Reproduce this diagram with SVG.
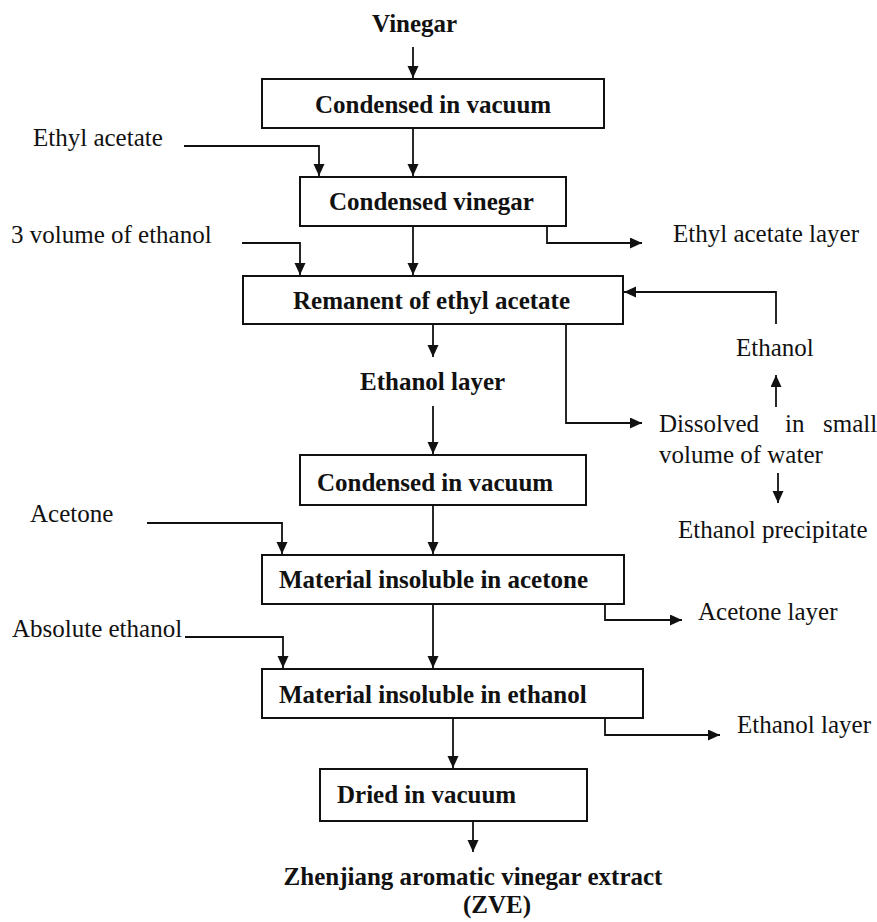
<svg xmlns="http://www.w3.org/2000/svg" width="877" height="922" viewBox="0 0 877 922">
<style>
.box{fill:#fff;stroke:#111;stroke-width:2}
.b{font-family:"Liberation Serif","Times New Roman",serif;font-weight:bold;font-size:25px;fill:#111}
.r{font-family:"Liberation Serif","Times New Roman",serif;font-size:25px;fill:#111}
.c{fill:none;stroke:#111;stroke-width:1.8}
</style>
<defs>
<marker id="ah" markerUnits="userSpaceOnUse" markerWidth="13" markerHeight="12" refX="12" refY="5.5" orient="auto">
<path d="M0,0 L12,5.5 L0,11 z" fill="#111"/>
</marker>
</defs>
<rect width="877" height="922" fill="#fff"/>
<g id="connectors">
<path class="c" d="M413,47 V78" marker-end="url(#ah)"/>
<path class="c" d="M413,128 V176" marker-end="url(#ah)"/>
<path class="c" d="M184,146 H319 V176" marker-end="url(#ah)"/>
<path class="c" d="M413,226 V275" marker-end="url(#ah)"/>
<path class="c" d="M242,243 H300 V275" marker-end="url(#ah)"/>
<path class="c" d="M547,226 V243 H642" marker-end="url(#ah)"/>
<path class="c" d="M776,324 V292 H624" marker-end="url(#ah)"/>
<path class="c" d="M433,324 V357" marker-end="url(#ah)"/>
<path class="c" d="M566,324 V423 H642" marker-end="url(#ah)"/>
<path class="c" d="M776,407 V375" marker-end="url(#ah)"/>
<path class="c" d="M778,473 V503" marker-end="url(#ah)"/>
<path class="c" d="M433,406 V454" marker-end="url(#ah)"/>
<path class="c" d="M433,505 V554" marker-end="url(#ah)"/>
<path class="c" d="M147,523 H282 V554" marker-end="url(#ah)"/>
<path class="c" d="M605,604 V620 H682" marker-end="url(#ah)"/>
<path class="c" d="M433,604 V668" marker-end="url(#ah)"/>
<path class="c" d="M185,637 H283 V668" marker-end="url(#ah)"/>
<path class="c" d="M605,718 V735 H720" marker-end="url(#ah)"/>
<path class="c" d="M453,718 V768" marker-end="url(#ah)"/>
<path class="c" d="M473,821 V852" marker-end="url(#ah)"/>
</g>
<g id="vinegar"><text class="b" x="372" y="32">Vinegar</text></g>
<g id="box1"><rect class="box" x="262" y="79" width="342" height="49"/><text class="b" x="315" y="113">Condensed in vacuum</text></g>
<g id="ethylacetate"><text class="r" x="33" y="146">Ethyl acetate</text></g>
<g id="box2"><rect class="box" x="300" y="177" width="266" height="49"/><text class="b" x="329" y="210">Condensed vinegar</text></g>
<g id="threevol"><text class="r" x="11" y="243">3 volume of ethanol</text></g>
<g id="ealayer"><text class="r" x="673" y="242">Ethyl acetate layer</text></g>
<g id="box3"><rect class="box" x="243" y="276" width="380" height="48"/><text class="b" x="293" y="309">Remanent of ethyl acetate</text></g>
<g id="ethanolR"><text class="r" x="736" y="356">Ethanol</text></g>
<g id="ethanollayer1"><text class="b" x="360" y="390">Ethanol layer</text></g>
<g id="dissolved"><text class="r" y="432"><tspan x="659">Dissolved</tspan><tspan x="785">in</tspan><tspan x="823">small</tspan></text><text class="r" x="659" y="463">volume of water</text></g>
<g id="precipitate"><text class="r" x="678" y="538">Ethanol precipitate</text></g>
<g id="box4"><rect class="box" x="300" y="455" width="286" height="50"/><text class="b" x="317" y="491">Condensed in vacuum</text></g>
<g id="acetone"><text class="r" x="30" y="522">Acetone</text></g>
<g id="box5"><rect class="box" x="262" y="555" width="362" height="49"/><text class="b" x="279" y="588">Material insoluble in acetone</text></g>
<g id="acetonelayer"><text class="r" x="698" y="620">Acetone layer</text></g>
<g id="absolute"><text class="r" x="12" y="637">Absolute ethanol</text></g>
<g id="box6"><rect class="box" x="262" y="669" width="381" height="49"/><text class="b" x="279" y="703">Material insoluble in ethanol</text></g>
<g id="ethanollayer2"><text class="r" x="737" y="733">Ethanol layer</text></g>
<g id="box7"><rect class="box" x="320" y="769" width="267" height="52"/><text class="b" x="337" y="803">Dried in vacuum</text></g>
<g id="zve"><text class="b" x="473" y="885" text-anchor="middle">Zhenjiang aromatic vinegar extract</text><text class="b" x="497" y="913" text-anchor="middle">(ZVE)</text></g>
</svg>
